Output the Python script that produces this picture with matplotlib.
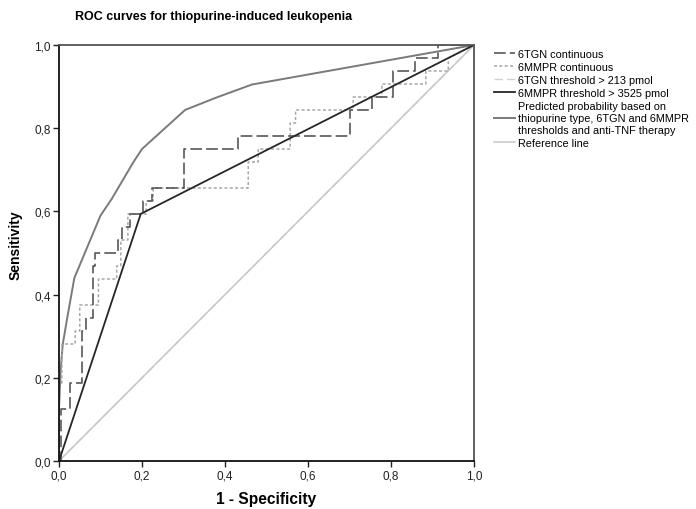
import matplotlib.pyplot as plt
from matplotlib.ticker import FuncFormatter

plt.rcParams["font.family"] = ["Liberation Sans", "DejaVu Sans"]

# ROC curves (x = 1 - specificity, y = sensitivity)
tgn_cont_x = [0, 0.005, 0.005, 0.026, 0.026, 0.055, 0.055, 0.066, 0.066, 0.081, 0.081,
              0.087, 0.087, 0.143, 0.143, 0.151, 0.151, 0.171, 0.171, 0.203, 0.203,
              0.223, 0.223, 0.300, 0.300, 0.432, 0.432, 0.700, 0.700, 0.755, 0.755,
              0.805, 0.805, 0.858, 0.858, 0.914, 0.914, 1.0]
tgn_cont_y = [0, 0, 0.125, 0.125, 0.1875, 0.1875, 0.3125, 0.3125, 0.34375, 0.34375, 0.46875,
              0.46875, 0.5, 0.5, 0.53125, 0.53125, 0.5625, 0.5625, 0.59375, 0.59375, 0.625,
              0.625, 0.65625, 0.65625, 0.75, 0.75, 0.78125, 0.78125, 0.84375, 0.84375, 0.875,
              0.875, 0.9375, 0.9375, 0.96875, 0.96875, 1.0, 1.0]

mmpr_cont_x = [0, 0, 0.007, 0.007, 0.039, 0.039, 0.050, 0.050, 0.095, 0.095, 0.139,
               0.139, 0.149, 0.149, 0.166, 0.166, 0.190, 0.190, 0.210, 0.210, 0.227,
               0.227, 0.456, 0.456, 0.480, 0.480, 0.557, 0.557, 0.570, 0.570, 0.709,
               0.709, 0.778, 0.778, 0.884, 0.884, 0.938, 0.938, 1.0]
mmpr_cont_y = [0, 0.1875, 0.1875, 0.28125, 0.28125, 0.3125, 0.3125, 0.375, 0.375, 0.4375,
               0.4375, 0.46875, 0.46875, 0.53125, 0.53125, 0.59375, 0.59375, 0.59375,
               0.59375, 0.625, 0.625, 0.65625, 0.65625, 0.71875, 0.71875, 0.75, 0.75,
               0.8125, 0.8125, 0.84375, 0.84375, 0.875, 0.875, 0.90625, 0.90625, 0.9375,
               0.9375, 0.96875, 1.0]

tgn_thr_x = [0, 1.0]
tgn_thr_y = [0, 1.0]

mmpr_thr_x = [0, 0.197, 1.0]
mmpr_thr_y = [0, 0.594, 1.0]

pred_x = [0, 0, 0.004, 0.009, 0.020, 0.037, 0.10, 0.127, 0.179, 0.200, 0.304, 0.380, 0.465, 1.0]
pred_y = [0, 0.125, 0.22, 0.28, 0.345, 0.44, 0.59, 0.63, 0.718, 0.75, 0.844, 0.874, 0.905, 1.0]

ref_x = [0, 1]
ref_y = [0, 1]

ticks = [0, 0.2, 0.4, 0.6, 0.8, 1.0]

fig = plt.figure(figsize=(6.96, 5.10), dpi=100)
ax = fig.add_axes([59 / 696, 48 / 510, 415 / 696, 416 / 510])

h_tgn_thr, = ax.plot(tgn_thr_x, tgn_thr_y, color="#d0d0d0", lw=1.0, dashes=(6, 3))
h_ref, = ax.plot(ref_x, ref_y, color="#c8c8c8", lw=1.1)
h_pred, = ax.plot(pred_x, pred_y, color="#7a7a7a", lw=1.4)
h_mmpr_cont, = ax.plot(mmpr_cont_x, mmpr_cont_y, color="#a8a8a8", lw=1.1, dashes=(2, 1.5))
h_tgn_cont, = ax.plot(tgn_cont_x, tgn_cont_y, color="#585858", lw=1.2, dashes=(7, 2.5))
h_mmpr_thr, = ax.plot(mmpr_thr_x, mmpr_thr_y, color="#262626", lw=1.3)

ax.set_xlim(0, 1)
ax.set_ylim(0, 1)
ax.set_xticks(ticks)
ax.set_yticks(ticks)
fmt = FuncFormatter(lambda v, p: f"{v:.1f}".replace(".", ","))
ax.xaxis.set_major_formatter(fmt)
ax.yaxis.set_major_formatter(fmt)
ax.tick_params(direction="out", length=4, width=1, labelsize=8.5, colors="#222222", pad=2)
for side in ["left", "bottom"]:
    ax.spines[side].set_color("#111111")
    ax.spines[side].set_linewidth(1.3)
for side in ["top", "right"]:
    ax.spines[side].set_color("#555555")
    ax.spines[side].set_linewidth(1.3)

ax.set_xlabel("1 - Specificity", fontsize=11.2, fontweight="bold", labelpad=7)
ax.set_ylabel("Sensitivity", fontsize=10, fontweight="bold")
ax.yaxis.set_label_coords(-0.088, 0.52)
fig.text(75 / 696, 1 - 17 / 510, "ROC curves for thiopurine-induced leukopenia",
         fontsize=9, fontweight="bold", ha="left", va="center")

handles = [h_tgn_cont, h_mmpr_cont, h_tgn_thr, h_mmpr_thr, h_pred, h_ref]
labels = ["6TGN continuous", "6MMPR continuous", "6TGN threshold > 213 pmol",
          "6MMPR threshold > 3525 pmol",
          "Predicted probability based on\nthiopurine type, 6TGN and 6MMPR\nthresholds and anti-TNF therapy",
          "Reference line"]
leg = fig.legend(handles, labels, loc="upper left", bbox_to_anchor=(494 / 696, 1 - 50 / 510),
                 frameon=False, fontsize=7.8, handlelength=1.9, handletextpad=0.3,
                 labelspacing=0.28, borderaxespad=0, borderpad=0)
for t in leg.get_texts():
    t.set_linespacing(1.22)

plt.savefig("out.png", dpi=100)
plt.close()
